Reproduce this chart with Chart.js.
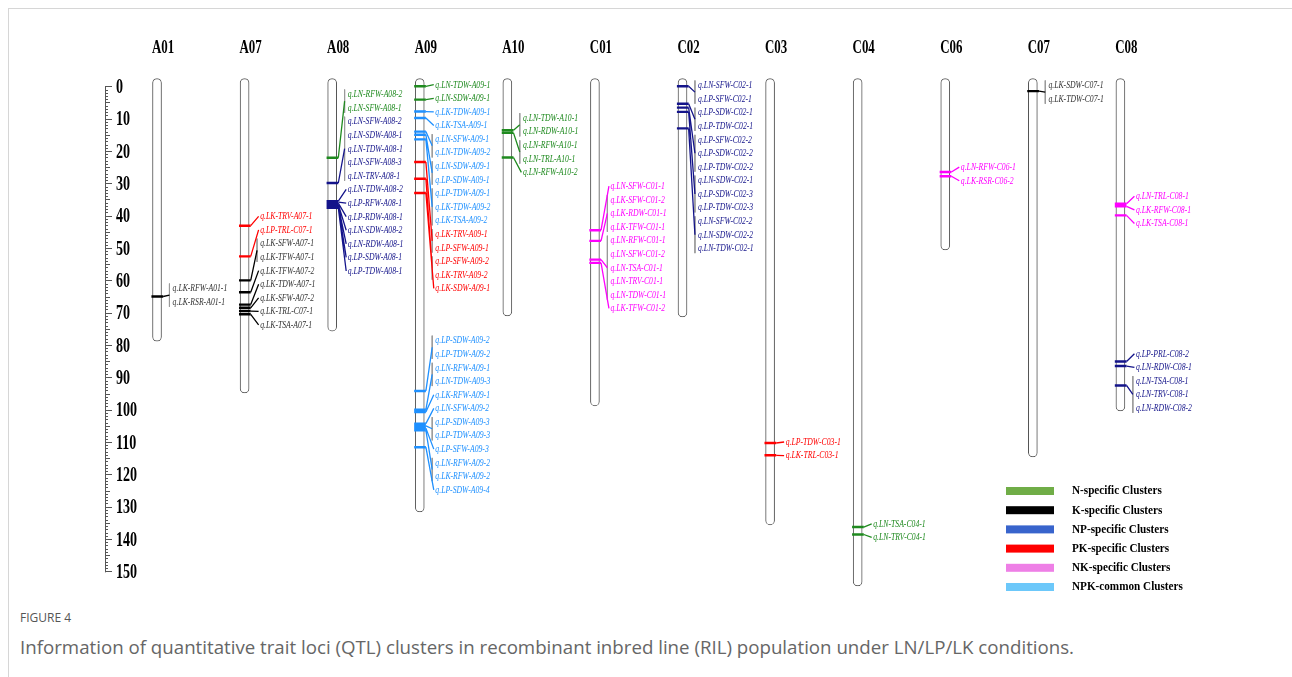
<!DOCTYPE html>
<html>
<head>
<meta charset="utf-8">
<script src="https://cdn.jsdelivr.net/npm/chart.js@4.4.1/dist/chart.umd.min.js"></script>
<style>
  body { margin: 0; background: #fff; }
  #page { position: relative; width: 1292px; height: 677px; overflow: hidden; }
  #frame { position: absolute; left: 8px; top: 8px; right: -2px; bottom: -2px; border-left: 1px solid #d6d6d6; border-top: 1px solid #d6d6d6; }
  #chartBox { position: absolute; left: 0; top: 0; width: 1292px; height: 600px; }
  #figNo { position: absolute; left: 20px; top: 609px; font: 12px 'Open Sans', sans-serif; color: #555; }
  #caption { position: absolute; left: 20px; top: 634px; font: 18.7px 'Open Sans', sans-serif; color: #666; white-space: nowrap; }
</style>
</head>
<body>
<div id="page">
  <div id="frame"></div>
  <div id="chartBox"><canvas id="map" width="1292" height="600"></canvas></div>
  <div id="figNo">FIGURE 4</div>
  <div id="caption">Information of quantitative trait loci (QTL) clusters in recombinant inbred line (RIL) population under LN/LP/LK conditions.</div>
</div>
<script>
// Chromosomes and their lengths (cM)
var chromNames = ['A01', 'A07', 'A08', 'A09', 'A10', 'C01', 'C02', 'C03', 'C04', 'C06', 'C07', 'C08'];
var chromLengths = [78.8, 94.8, 75.7, 131.6, 71, 98.8, 71.3, 135.6, 154.5, 50.6, 114.6, 100.4];

// Cluster groups
var groupNames = ['N-specific Clusters', 'K-specific Clusters', 'NP-specific Clusters',
  'PK-specific Clusters', 'NK-specific Clusters', 'NPK-common Clusters'];
var groupColors = ['#1f8a1f', '#000000', '#14148a', '#ff0000', '#ff00ff', '#1e90ff'];
var legendColors = ['#70ad47', '#000000', '#3864cc', '#ff0000', '#ee7fe6', '#6cc8fa'];

// QTLs: name, chromosome index, position (cM), group index
var qtlNames = [
  'q.LK-RFW-A01-1', 'q.LK-RSR-A01-1',
  'q.LK-TRV-A07-1', 'q.LP-TRL-C07-1', 'q.LK-SFW-A07-1', 'q.LK-TFW-A07-1', 'q.LK-TFW-A07-2',
  'q.LK-TDW-A07-1', 'q.LK-SFW-A07-2', 'q.LK-TRL-C07-1', 'q.LK-TSA-A07-1',
  'q.LN-RFW-A08-2', 'q.LN-SFW-A08-1', 'q.LN-SFW-A08-2', 'q.LN-SDW-A08-1', 'q.LN-TDW-A08-1',
  'q.LN-SFW-A08-3', 'q.LN-TRV-A08-1', 'q.LN-TDW-A08-2', 'q.LP-RFW-A08-1', 'q.LP-RDW-A08-1',
  'q.LN-SDW-A08-2', 'q.LN-RDW-A08-1', 'q.LP-SDW-A08-1', 'q.LP-TDW-A08-1',
  'q.LN-TDW-A09-1', 'q.LN-SDW-A09-1', 'q.LK-TDW-A09-1', 'q.LK-TSA-A09-1', 'q.LN-SFW-A09-1',
  'q.LN-TDW-A09-2', 'q.LN-SDW-A09-1', 'q.LP-SDW-A09-1', 'q.LP-TDW-A09-1', 'q.LK-TDW-A09-2',
  'q.LK-TSA-A09-2', 'q.LK-TRV-A09-1', 'q.LP-SFW-A09-1', 'q.LP-SFW-A09-2', 'q.LK-TRV-A09-2',
  'q.LK-SDW-A09-1',
  'q.LP-SDW-A09-2', 'q.LP-TDW-A09-2', 'q.LN-RFW-A09-1', 'q.LN-TDW-A09-3', 'q.LK-RFW-A09-1',
  'q.LN-SFW-A09-2', 'q.LP-SDW-A09-3', 'q.LP-TDW-A09-3', 'q.LP-SFW-A09-3', 'q.LN-RFW-A09-2',
  'q.LK-RFW-A09-2', 'q.LP-SDW-A09-4',
  'q.LN-TDW-A10-1', 'q.LN-RDW-A10-1', 'q.LN-RFW-A10-1', 'q.LN-TRL-A10-1', 'q.LN-RFW-A10-2',
  'q.LN-SFW-C01-1', 'q.LK-SFW-C01-2', 'q.LK-RDW-C01-1', 'q.LK-TFW-C01-1', 'q.LN-RFW-C01-1',
  'q.LN-SFW-C01-2', 'q.LN-TSA-C01-1', 'q.LN-TRV-C01-1', 'q.LN-TDW-C01-1', 'q.LK-TFW-C01-2',
  'q.LN-SFW-C02-1', 'q.LP-SFW-C02-1', 'q.LP-SDW-C02-1', 'q.LP-TDW-C02-1', 'q.LP-SFW-C02-2',
  'q.LP-SDW-C02-2', 'q.LP-TDW-C02-2', 'q.LN-SDW-C02-1', 'q.LP-SDW-C02-3', 'q.LP-TDW-C02-3',
  'q.LN-SFW-C02-2', 'q.LN-SDW-C02-2', 'q.LN-TDW-C02-1',
  'q.LP-TDW-C03-1', 'q.LK-TRL-C03-1',
  'q.LN-TSA-C04-1', 'q.LN-TRV-C04-1',
  'q.LN-RFW-C06-1', 'q.LK-RSR-C06-2',
  'q.LK-SDW-C07-1', 'q.LK-TDW-C07-1',
  'q.LN-TRL-C08-1', 'q.LK-RFW-C08-1', 'q.LK-TSA-C08-1',
  'q.LP-PRL-C08-2', 'q.LN-RDW-C08-1', 'q.LN-TSA-C08-1', 'q.LN-TRV-C08-1', 'q.LN-RDW-C08-2'
];
var qtlChrom = [
  0, 0,
  1, 1, 1, 1, 1, 1, 1, 1, 1,
  2, 2, 2, 2, 2, 2, 2, 2, 2, 2, 2, 2, 2, 2,
  3, 3, 3, 3, 3, 3, 3, 3, 3, 3, 3, 3, 3, 3, 3, 3,
  3, 3, 3, 3, 3, 3, 3, 3, 3, 3, 3, 3,
  4, 4, 4, 4, 4,
  5, 5, 5, 5, 5, 5, 5, 5, 5, 5,
  6, 6, 6, 6, 6, 6, 6, 6, 6, 6, 6, 6, 6,
  7, 7,
  8, 8,
  9, 9,
  10, 10,
  11, 11, 11, 11, 11, 11, 11, 11
];
var qtlPos = [
  65, 65,
  43.1, 52.6, 60, 60, 63.7, 67.5, 68.5, 69.5, 70.5,
  22.1, 22.1, 29.9, 29.9, 29.9, 29.9, 29.9, 35.5, 35.8, 36.1, 36.5, 37, 37.3, 37.6,
  0, 4.1, 7.8, 9.8, 14, 14, 15, 15, 16.4, 16.4, 16.4, 23.4, 23.4, 28.6, 28.6, 33,
  94.2, 94.2, 100, 100, 100.7, 104.3, 105, 105, 105.7, 106.4, 106.4, 111.6,
  13.6, 13.6, 14.4, 14.4, 22,
  44.5, 47.8, 47.8, 47.8, 53.6, 53.6, 53.6, 53.6, 53.6, 54.6,
  0, 0, 5.4, 5.4, 6.6, 6.6, 6.6, 7.9, 7.9, 7.9, 13, 13, 13,
  110.3, 114.1,
  136.3, 138.6,
  26.5, 27.8,
  1.5, 1.5,
  36.3, 37.1, 39.9,
  85.1, 86.5, 92.5, 92.5, 92.5
];
var qtlGroup = [
  1, 1,
  3, 3, 1, 1, 1, 1, 1, 1, 1,
  0, 0, 2, 2, 2, 2, 2, 2, 2, 2, 2, 2, 2, 2,
  0, 0, 5, 5, 5, 5, 5, 5, 5, 5, 5, 3, 3, 3, 3, 3,
  5, 5, 5, 5, 5, 5, 5, 5, 5, 5, 5, 5,
  0, 0, 0, 0, 0,
  4, 4, 4, 4, 4, 4, 4, 4, 4, 4,
  2, 2, 2, 2, 2, 2, 2, 2, 2, 2, 2, 2, 2,
  3, 3,
  0, 0,
  4, 4,
  1, 1,
  4, 4, 4,
  2, 2, 2, 2, 2
];

// Label columns: first row (cM) and number of rows, in the order of the QTL list
var labelBlockStart = [62.5, 40.2, 2.5, -0.5, 78.6, 9.8, 30.9, -0.3, 110, 135.3, 25, -0.3, 34, 82.7];
var labelBlockSize = [2, 9, 14, 16, 12, 5, 10, 13, 2, 2, 2, 2, 3, 5];
var LABEL_STEP = 4.2;

// Ruler
var rulerMax = 150;

// ---- build everything from the arrays above ----
var labelY = [];
var k = 0;
labelBlockStart.forEach(function (start, b) {
  for (var j = 0; j < labelBlockSize[b]; j++) {
    labelY[k++] = start + j * LABEL_STEP;
  }
});

// loci sharing one position on one chromosome
var clusters = [];
qtlNames.forEach(function (name, i) {
  var last = clusters[clusters.length - 1];
  if (last && qtlChrom[last.first] === qtlChrom[i] && qtlPos[last.first] === qtlPos[i]) {
    last.last = i;
  } else {
    clusters.push({ first: i, last: i });
  }
});

// offsets from the chromosome centre, in chromosome units
var TICK_L = -0.064, TICK_R = 0.07, BRACKET = 0.142, LINK_END = 0.16, LABEL_X = 0.178;

var datasets = [];
datasets.push({
  type: 'bar',
  data: chromNames.map(function (n, i) { return { x: i, y: [-2.4, chromLengths[i]] }; }),
  backgroundColor: '#ffffff',
  borderColor: '#555555',
  borderWidth: 1,
  borderSkipped: false,
  borderRadius: 5,
  barThickness: 9,
  order: 3
});

var brackets = [];
groupColors.forEach(function (color, g) {
  var ticks = [], links = [];
  clusters.forEach(function (cl) {
    if (qtlGroup[cl.first] !== g) return;
    var c = qtlChrom[cl.first], p = qtlPos[cl.first];
    ticks.push({ x: c + TICK_L, y: p }, { x: c + TICK_R, y: p }, { x: c + TICK_R, y: null });
    if (cl.first === cl.last) {
      links.push({ x: c + TICK_R, y: p }, { x: c + LINK_END, y: labelY[cl.first] }, { x: c + LINK_END, y: null });
    } else {
      var mid = (labelY[cl.first] + labelY[cl.last]) / 2;
      links.push({ x: c + TICK_R, y: p }, { x: c + BRACKET, y: mid }, { x: c + BRACKET, y: null });
      brackets.push({ x: c + BRACKET, y: labelY[cl.first] - 1.5 }, { x: c + BRACKET, y: labelY[cl.last] + 1.5 }, { x: c + BRACKET, y: null });
    }
  });
  datasets.push({
    type: 'line', data: ticks, borderColor: color, borderWidth: 2.4,
    pointRadius: 0, spanGaps: false, fill: false, order: 1
  });
  datasets.push({
    type: 'line', data: links, borderColor: color, borderWidth: 1.3,
    pointRadius: 0, spanGaps: false, fill: false, order: 1
  });
});
datasets.push({
  type: 'line', data: brackets, borderColor: '#9a9a9a', borderWidth: 1,
  pointRadius: 0, spanGaps: false, fill: false, order: 2
});

function squeezeText(ctx, text, px, py, sx) {
  ctx.save();
  ctx.translate(px, py);
  ctx.scale(sx, 1);
  ctx.fillText(text, 0, 0);
  ctx.restore();
}

var mapText = {
  id: 'mapText',
  afterDatasetsDraw: function (chart) {
    var ctx = chart.ctx, xs = chart.scales.x, ys = chart.scales.y;
    ctx.save();

    // ruler
    var rx = chart.chartArea.left + 5;
    ctx.strokeStyle = '#555';
    ctx.lineWidth = 1;
    ctx.beginPath();
    ctx.moveTo(rx + 0.5, ys.getPixelForValue(0));
    ctx.lineTo(rx + 0.5, ys.getPixelForValue(rulerMax) + 1);
    for (var v = 0; v <= rulerMax; v += 1) {
      var py = Math.round(ys.getPixelForValue(v)) + 0.5;
      var len = v % 10 === 0 ? 7 : (v % 5 === 0 ? 5 : 3);
      ctx.moveTo(rx, py);
      ctx.lineTo(rx + len, py);
    }
    ctx.stroke();
    ctx.fillStyle = '#000';
    ctx.font = 'bold 22px "Liberation Serif"';
    ctx.textAlign = 'left';
    ctx.textBaseline = 'middle';
    for (var t = 0; t <= rulerMax; t += 10) {
      squeezeText(ctx, String(t), rx + 11, ys.getPixelForValue(t) + 1, 0.64);
    }

    // chromosome names
    ctx.font = 'bold 19px "Liberation Serif"';
    ctx.textAlign = 'center';
    chromNames.forEach(function (n, i) {
      squeezeText(ctx, n, xs.getPixelForValue(i) + 6, 48, 0.68);
    });

    // QTL labels
    ctx.font = 'italic 11px "Liberation Serif"';
    ctx.textAlign = 'left';
    qtlNames.forEach(function (n, i) {
      var g = qtlGroup[i];
      ctx.fillStyle = g === 1 ? '#333' : groupColors[g];
      squeezeText(ctx, n, xs.getPixelForValue(qtlChrom[i] + LABEL_X), ys.getPixelForValue(labelY[i]), 0.7);
    });

    // legend
    ctx.font = 'bold 13px "Liberation Serif"';
    groupNames.forEach(function (n, i) {
      var ly = 491 + i * 19.2;
      ctx.fillStyle = legendColors[i];
      ctx.fillRect(1006, ly - 4, 48, 8);
      ctx.fillStyle = '#000';
      squeezeText(ctx, n, 1072, ly, 0.86);
    });
    ctx.restore();
  }
};

new Chart(document.getElementById('map'), {
  type: 'bar',
  data: { datasets: datasets },
  options: {
    responsive: false,
    animation: false,
    layout: { padding: { left: 100, right: 84, top: 75, bottom: 6 } },
    plugins: { legend: { display: false }, tooltip: { enabled: false } },
    events: [],
    scales: {
      x: { type: 'linear', offset: false, min: -0.651, max: 12, display: false },
      y: { type: 'linear', reverse: true, min: -3.5, max: 157, display: false }
    }
  },
  plugins: [mapText]
});
</script>
</body>
</html>
